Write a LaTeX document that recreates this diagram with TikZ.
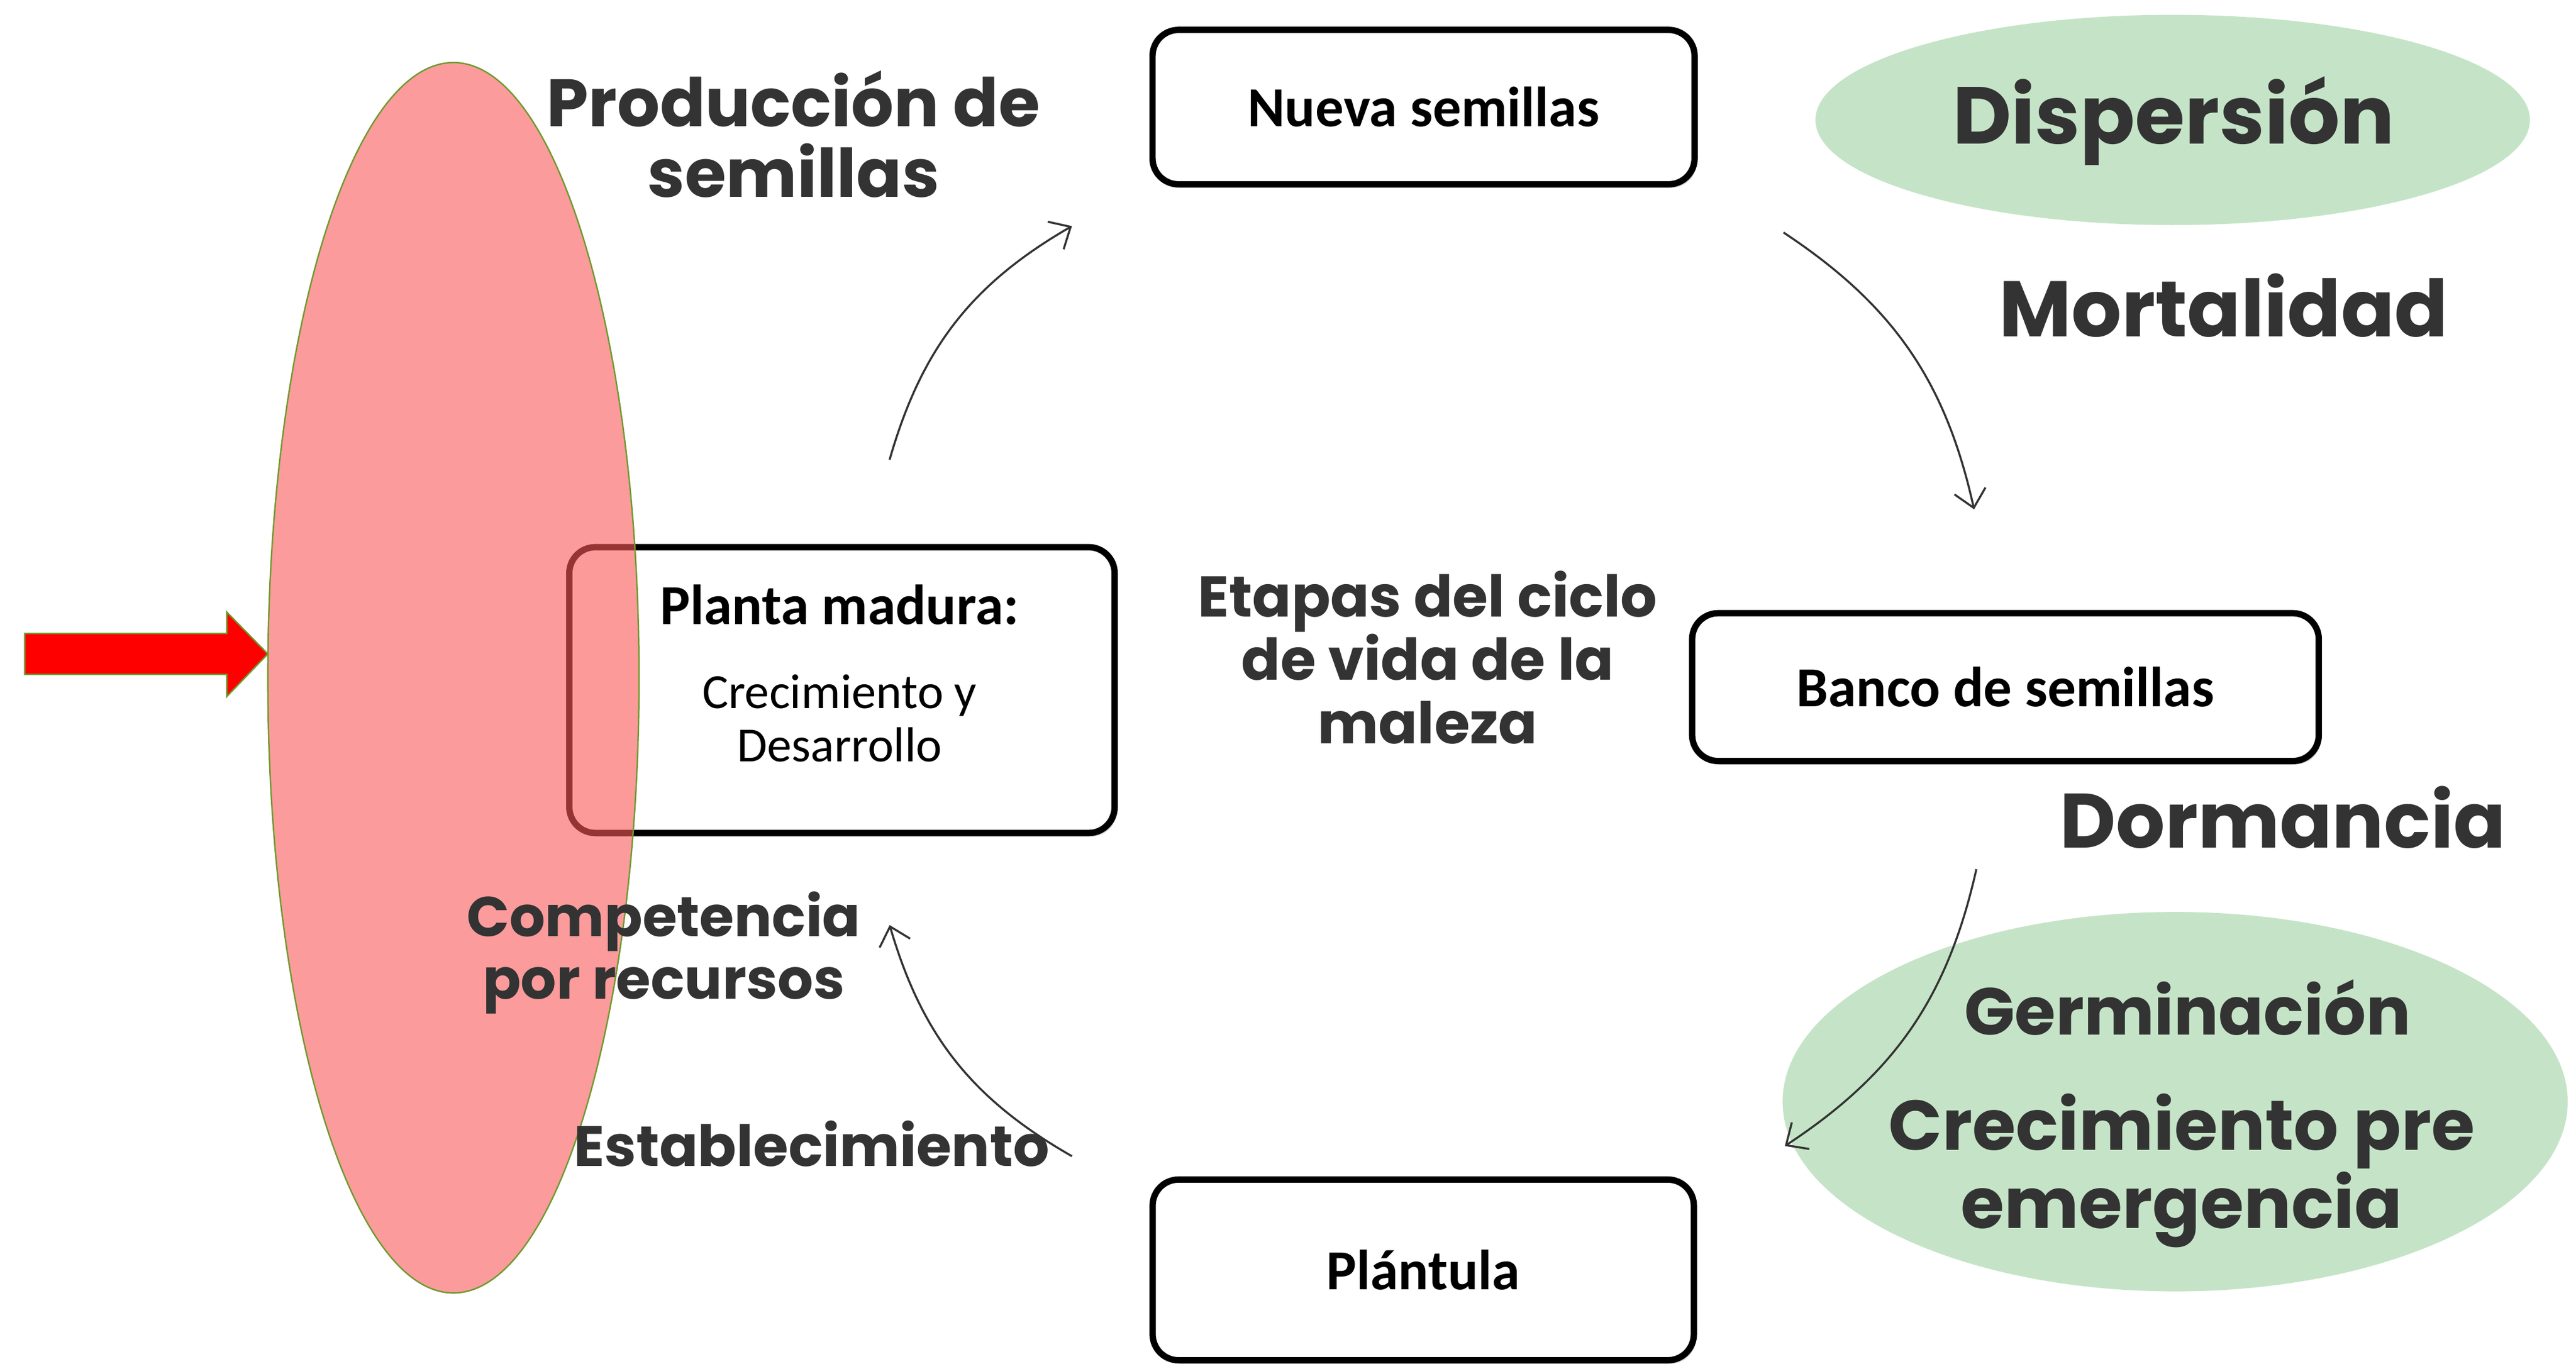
\documentclass[tikz,border=0pt]{standalone}
\usepackage{fontspec}
\setmainfont{Carlito}
\newfontfamily\phasefont{Poppins}
\usetikzlibrary{arrows.meta,shapes.geometric,shadows}
\definecolor{labelgray}{HTML}{333333}
\definecolor{mintgreen}{HTML}{C5E4C7}
\definecolor{rosefill}{RGB}{250,88,88}
\definecolor{olivegreen}{HTML}{6E9A2E}
\tikzset{
    stage/.style={
    rectangle,rounded corners=9pt,draw=black,line width=2.2pt,fill=white,inner sep=0pt,
    drop shadow={shadow xshift=0.8pt,shadow yshift=-1.2pt,fill=black!35,opacity=0.6},
    font=\fontsize{19.6}{22}\selectfont\bfseries
    },
    stagetext/.style={
    anchor=base,align=center
    },
    phase/.style={
    anchor=base,align=center,text=labelgray,font=\phasefont\bfseries\fontsize{23.2}{24.5}\selectfont
    },
    bigphase/.style={
    anchor=base,align=center,text=labelgray,font=\phasefont\bfseries\fontsize{28}{25.3}\selectfont
    },
    smallphase/.style={
    anchor=base,align=center,text=labelgray,font=\phasefont\bfseries\fontsize{19.4}{21.6}\selectfont
    },
    halo/.style={
    ellipse,fill=mintgreen,inner sep=0pt
    },
    lifearrow/.style={
    draw=labelgray,line width=0.7pt,-{Straight Barb[length=6pt,width=11pt]},bend left=22
    },
}
\begin{document}
\begin{tikzpicture}[x=0.02cm, y=-0.02cm]
   \useasboundingbox (0,0) rectangle (1568,830);
   % green halos
   \node[halo,minimum width=8.70cm,minimum height=2.56cm] (disphalo) at (1322.5,73) {};
   \node[halo,minimum width=9.56cm,minimum height=4.62cm] (germhalo) at (1324,670.5) {};
   % stages
   \node[stage,minimum width=6.60cm,minimum height=1.88cm] (nueva) at (866.5,65.2) {Nueva semillas};
   \node[stage,minimum width=6.64cm,minimum height=3.48cm] (planta) at (512.5,420) {};
   \node[stage,minimum width=7.63cm,minimum height=1.80cm] (banco) at (1220.7,418.2) {Banco de semillas};
   \node[stage,minimum width=6.59cm,minimum height=2.20cm] (plantula) at (866.3,772.9) {Pl\'antula};
   \node[stagetext,font=\fontsize{19.6}{22}\selectfont\bfseries] (plantatitle) at (511,380) {Planta madura:};
   \node[stagetext,font=\fontsize{17}{18.4}\selectfont] (plantasub) at (511,463.4) {Crecimiento y\\Desarrollo};
   % control zone
   \node[ellipse,draw=olivegreen,line width=0.5pt,fill=rosefill,fill opacity=0.6,inner sep=0pt,
         minimum width=4.52cm,minimum height=14.98cm] (control) at (276,412.5) {};
   \draw[draw=olivegreen,line width=0.5pt,fill=red]
     (15,385.5) -- (138,385.5) -- (138,372.5) -- (163,398) -- (138,424) -- (138,410.5) -- (15,410.5) -- cycle;
   % labels
   \node[phase] (produccion) at (483,120) {Producci\'on de\\semillas};
   \node[bigphase] (dispersion) at (1323,87.6) {Dispersi\'on};
   \node[bigphase,font=\phasefont\bfseries\fontsize{27.3}{28}\selectfont] (mortalidad) at (1353.5,205) {Mortalidad};
   \node[smallphase,font=\phasefont\bfseries\fontsize{19.9}{21.9}\selectfont] (etapas) at (869,452.5) {Etapas del ciclo\\de vida de la\\maleza};
   \node[bigphase,font=\phasefont\bfseries\fontsize{26.7}{28}\selectfont] (dormancia) at (1389.6,516) {Dormancia};
   \node[phase,font=\phasefont\bfseries\fontsize{23}{28}\selectfont] (germinacion) at (1331.5,630) {Germinaci\'on};
   \node[phase,font=\phasefont\bfseries\fontsize{24.4}{25.3}\selectfont] (preemerg) at (1328,747.5) {Crecimiento pre\\emergencia};
   \node[smallphase] (competencia) at (404,608) {Competencia\\por recursos};
   \node[smallphase,font=\phasefont\bfseries\fontsize{19.7}{21.6}\selectfont] (establec) at (494,710) {Establecimiento};
   % cycle
   \coordinate (seedA) at (541.5,279.8);
   \coordinate (seedB) at (652.5,137.6);
   \coordinate (bankA) at (1085.6,141.5);
   \coordinate (bankB) at (1201.6,310);
   \coordinate (germA) at (1203,529);
   \coordinate (germB) at (1086.4,697.5);
   \coordinate (estA) at (652.5,703.7);
   \coordinate (estB) at (541.5,563);

  \path
    (seedA) edge[lifearrow] (seedB)
    (bankA) edge[lifearrow] (bankB)
    (germA) edge[lifearrow] (germB)
    (estA) edge[lifearrow] (estB);
\end{tikzpicture}
\end{document}
